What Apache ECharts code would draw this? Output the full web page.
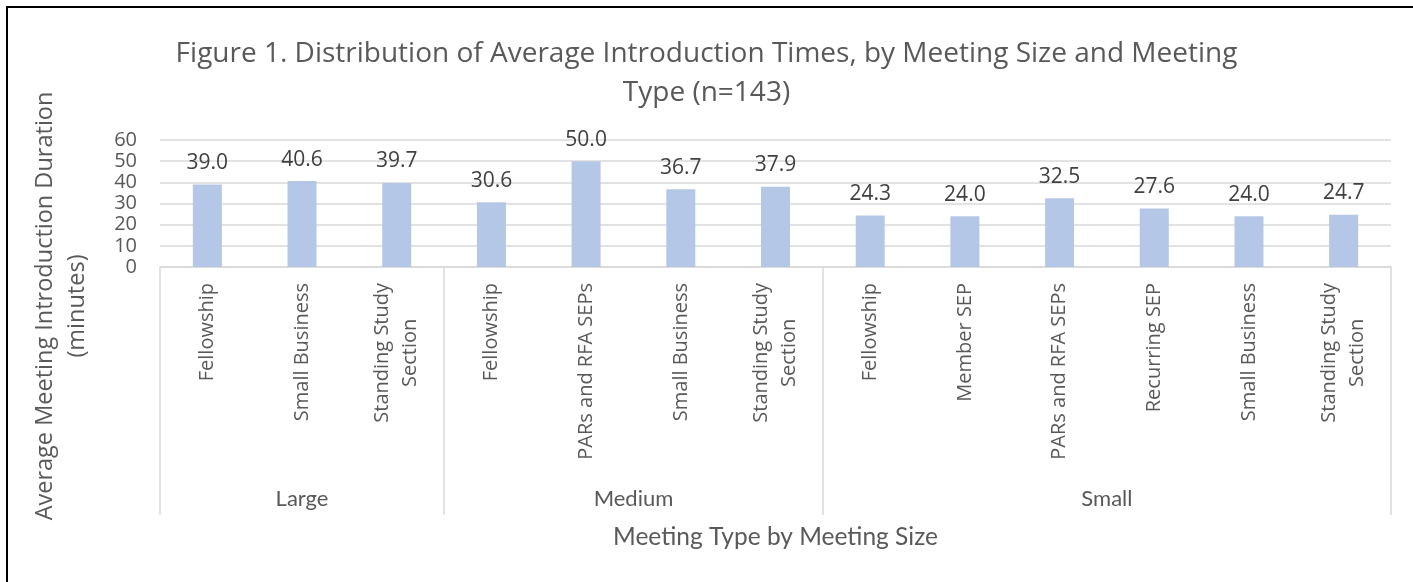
<!DOCTYPE html>
<html>
<head>
<meta charset="utf-8">
<script src="https://cdn.jsdelivr.net/npm/echarts@6/dist/echarts.min.js"></script>
<style>
  html, body { margin: 0; padding: 0; background: #fff; }
  #chart { width: 1413px; height: 582px; }
</style>
</head>
<body>
<div id="chart"></div>
<script>
// meeting size groups and how many meeting types each one holds
const groups = ['Large', 'Medium', 'Small']
const groupSizes = [3, 4, 6]

// meeting types (in order, grouped by size)
const categories = [
  'Fellowship', 'Small Business', 'Standing Study\nSection',
  'Fellowship', 'PARs and RFA SEPs', 'Small Business', 'Standing Study\nSection',
  'Fellowship', 'Member SEP', 'PARs and RFA SEPs', 'Recurring SEP', 'Small Business', 'Standing Study\nSection'
]

// average introduction duration (minutes)
const values = [39.0, 40.6, 39.7, 30.6, 50.0, 36.7, 37.9, 24.3, 24.0, 32.5, 27.6, 24.0, 24.7]

const yTicks = [0, 10, 20, 30, 40, 50, 60]

const FONT = '"Open Sans", "Noto Sans", sans-serif'
const NARROW = 'Lato, ' + FONT
const LABEL_SIZE = 20

// group boundaries and centres on a 0..n value scale
const boundaries = [0]
const centres = []
groupSizes.forEach((n, i) => {
  const start = boundaries[i]
  boundaries.push(start + n)
  centres.push(start + n / 2)
})

// width of the longest line, so two-line labels can be centred line by line
const ctx = document.createElement('canvas').getContext('2d')
ctx.font = LABEL_SIZE + 'px ' + FONT
const maxLineWidth = (txt) => Math.max(...txt.split('\n').map(l => ctx.measureText(l).width))

const chart = echarts.init(document.getElementById('chart'))

const option = {
  backgroundColor: '#fff',
  animation: false,
  title: {
    text: 'Figure 1. Distribution of Average Introduction Times, by Meeting Size and Meeting\nType (n=143)',
    left: 'center',
    top: 30,
    textStyle: {
      fontFamily: FONT,
      fontSize: 28,
      fontWeight: 'normal',
      color: '#595959',
      lineHeight: 39
    }
  },
  graphic: [
    {
      type: 'rect',
      shape: { x: 7, y: 7, width: 1420, height: 600 },
      style: { fill: 'none', stroke: '#000', lineWidth: 2 },
      silent: true
    },
    {
      type: 'text',
      x: 61,
      y: 306,
      rotation: Math.PI / 2,
      style: {
        text: 'Average Meeting Introduction Duration\n(minutes)',
        font: '23.5px ' + FONT,
        fill: '#595959',
        align: 'center',
        verticalAlign: 'middle',
        lineHeight: 32
      }
    }
  ],
  grid: {
    left: 160,
    right: 22,
    top: 140,
    bottom: 315,
    containLabel: false
  },
  xAxis: [
    {
      type: 'category',
      data: categories,
      axisLine: { lineStyle: { color: '#d9d9d9', width: 1.5 } },
      axisTick: { show: false },
      axisLabel: {
        interval: 0,
        rotate: 90,
        margin: 16,
        color: '#595959',
        fontFamily: FONT,
        fontSize: LABEL_SIZE,
        formatter: (val) => {
          if (val.indexOf('\n') < 0) return val
          return val.split('\n').map(l => '{c|' + l + '}').join('\n')
        },
        rich: {
          c: {
            width: maxLineWidth('Standing Study\nSection'),
            align: 'center',
            fontFamily: FONT,
            fontSize: LABEL_SIZE,
            color: '#595959',
            lineHeight: 28
          }
        }
      },
      name: 'Meeting Type by Meeting Size',
      nameLocation: 'middle',
      nameGap: 258,
      nameTextStyle: {
        fontFamily: NARROW,
        fontSize: 24.5,
        color: '#595959'
      }
    },
    {
      // helper axis: group separators and group names
      type: 'value',
      position: 'bottom',
      min: 0,
      max: categories.length,
      axisLine: { show: false },
      splitLine: { show: false },
      axisTick: {
        show: true,
        customValues: boundaries,
        length: 248,
        lineStyle: { color: '#d9d9d9', width: 1.5 }
      },
      axisLabel: {
        customValues: centres,
        margin: 221,
        color: '#595959',
        fontFamily: NARROW,
        fontSize: 22,
        formatter: (v) => groups[centres.indexOf(v)]
      }
    }
  ],
  yAxis: {
    type: 'value',
    min: yTicks[0],
    max: yTicks[yTicks.length - 1],
    interval: yTicks[1] - yTicks[0],
    axisLine: { show: false },
    axisTick: { show: false },
    splitLine: { lineStyle: { color: '#d9d9d9', width: 1.5 } },
    axisLabel: {
      margin: 23,
      color: '#595959',
      fontFamily: FONT,
      fontSize: 20,
      lineHeight: 20
    }
  },
  series: [
    {
      type: 'bar',
      xAxisIndex: 0,
      data: values,
      barWidth: 29,
      itemStyle: { color: '#b4c7e7' },
      label: {
        show: true,
        position: 'top',
        distance: 11,
        color: '#404040',
        fontFamily: FONT,
        fontSize: 21,
        formatter: (p) => p.value.toFixed(1)
      }
    }
  ]
}

chart.setOption(option)
</script>
</body>
</html>
